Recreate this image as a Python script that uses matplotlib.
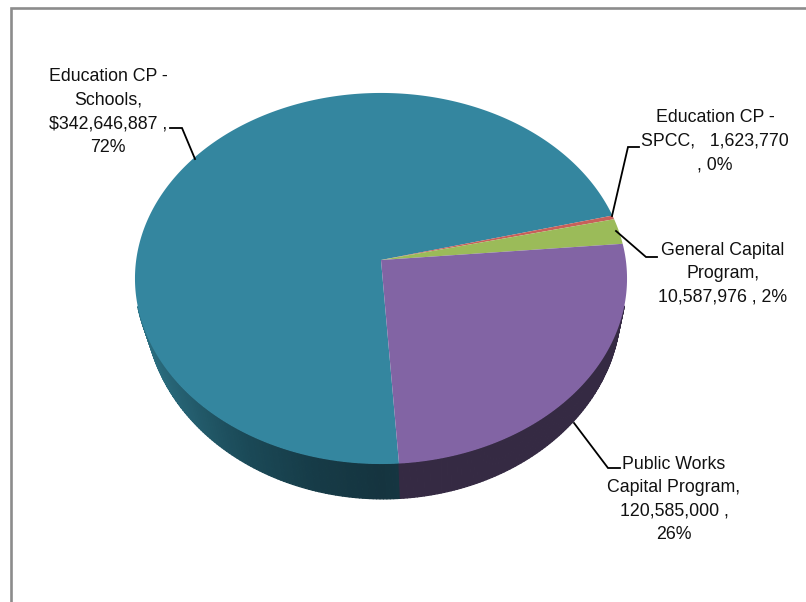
import numpy as np
import matplotlib
matplotlib.use("Agg")
import matplotlib.pyplot as plt
from matplotlib.collections import PolyCollection
from matplotlib.colors import to_rgb

programs = ["Education CP - Schools", "Education CP - SPCC",
            "General Capital Program", "Public Works Capital Program"]
amounts = [342646887, 1623770, 10587976, 120585000]
label_texts = ["Education CP -\nSchools,\n$342,646,887 ,\n72%",
               "Education CP -\nSPCC,   1,623,770\n, 0%",
               "General Capital\nProgram,\n10,587,976 , 2%",
               "Public Works\nCapital Program,\n120,585,000 ,\n26%"]
top_colors = ["#34869f", "#c8605a", "#9bbb59", "#8264a4"]
side_colors = ["#15343f", "#5a2c2a", "#4a5a2a", "#352a43"]

W, H = 806, 602
START_ANGLE = -86.2
PERSPECTIVE = 0.0997

plt.rcParams["font.family"] = ["Liberation Sans", "DejaVu Sans"]
fig = plt.figure(figsize=(W / 100, H / 100), dpi=100, facecolor="white")
ax = fig.add_axes([0, 0, 1, 1])
ax.set_xlim(0, W)
ax.set_ylim(H, 0)
ax.axis("off")


def project(deg, x0, y0, a, b):
    """Perspective view of a point on the rim of a tilted disc."""
    t = np.radians(deg)
    w = 1 + PERSPECTIVE * np.sin(t)
    return x0 + a * np.cos(t) / w, y0 - b * np.sin(t) / w


def top_rim(deg):
    return project(deg, 381, 260, 244.8, 183.7)


def bottom_rim(deg):
    return project(deg, 383, 285.6, 236.8, 192.0)


def side_shade(index, deg):
    """The teal wall brightens towards the left; other walls are flat."""
    if index != 0:
        return to_rgb(side_colors[index])
    c = abs(np.cos(np.radians(deg)))
    stops = ["#15343f", "#163b47", "#1b4a58", "#266273", "#2e7789"]
    rgb = np.array([to_rgb(s) for s in stops])
    pos = [0, 0.25, 0.52, 0.79, 1.0]
    return tuple(np.interp(c, pos, rgb[:, k]) for k in range(3))


# Wedge spans run clockwise from the start angle, sized by the amounts
shares = np.array(amounts) / np.sum(amounts) * 360
ends = START_ANGLE - np.cumsum(shares)
begins = np.concatenate([[START_ANGLE], ends[:-1]])

# Side wall first, then the top face over it
polys, shades = [], []
for i, (b, e) in enumerate(zip(begins, ends)):
    angles = np.append(np.arange(e, b, 0.75), b)
    for a1, a2 in zip(angles[:-1], angles[1:]):
        mid = (a1 + a2) / 2
        if np.sin(np.radians(mid)) > -0.25:
            continue
        t1, t2 = top_rim(a1), top_rim(a2)
        b1, b2 = bottom_rim(a1), bottom_rim(a2)
        polys.append([t1, t2, b2, b1])
        shades.append(side_shade(i, mid))
ax.add_collection(PolyCollection(polys, facecolors=shades, edgecolors=shades,
                                 linewidths=0.9, zorder=2))

for i, (b, e) in enumerate(zip(begins, ends)):
    angles = np.linspace(b, e, max(int(abs(b - e)) * 2, 12))
    xs, ys = top_rim(angles)
    ax.fill(np.r_[381, xs], np.r_[260, ys], color=top_colors[i], lw=0, zorder=3)

# Chart frame, open on the right and at the bottom
ax.plot([10.5, 10.5, W], [H, 7.5, 7.5], color="#8c8c8c", lw=1.9,
        solid_joinstyle="miter", clip_on=False, zorder=4)

leaders = [([170, 182, 195], [128, 128, 159]),
           ([612, 628, 639], [216, 147, 147]),
           ([616, 646, 657], [231, 257, 257]),
           ([574, 608, 620], [423, 468, 468])]
for xs, ys in leaders:
    ax.plot(xs, ys, color="black", lw=1.3, solid_joinstyle="miter", zorder=5)

anchors = [(108, 112), (715, 141.5), (723, 274), (674, 499.5)]
for text, (x, y) in zip(label_texts, anchors):
    ax.text(x, y, text, ha="center", va="center", fontsize=12.8,
            linespacing=1.5, color="#111111", zorder=6)

fig.savefig("out.png", dpi=100, facecolor="white")
